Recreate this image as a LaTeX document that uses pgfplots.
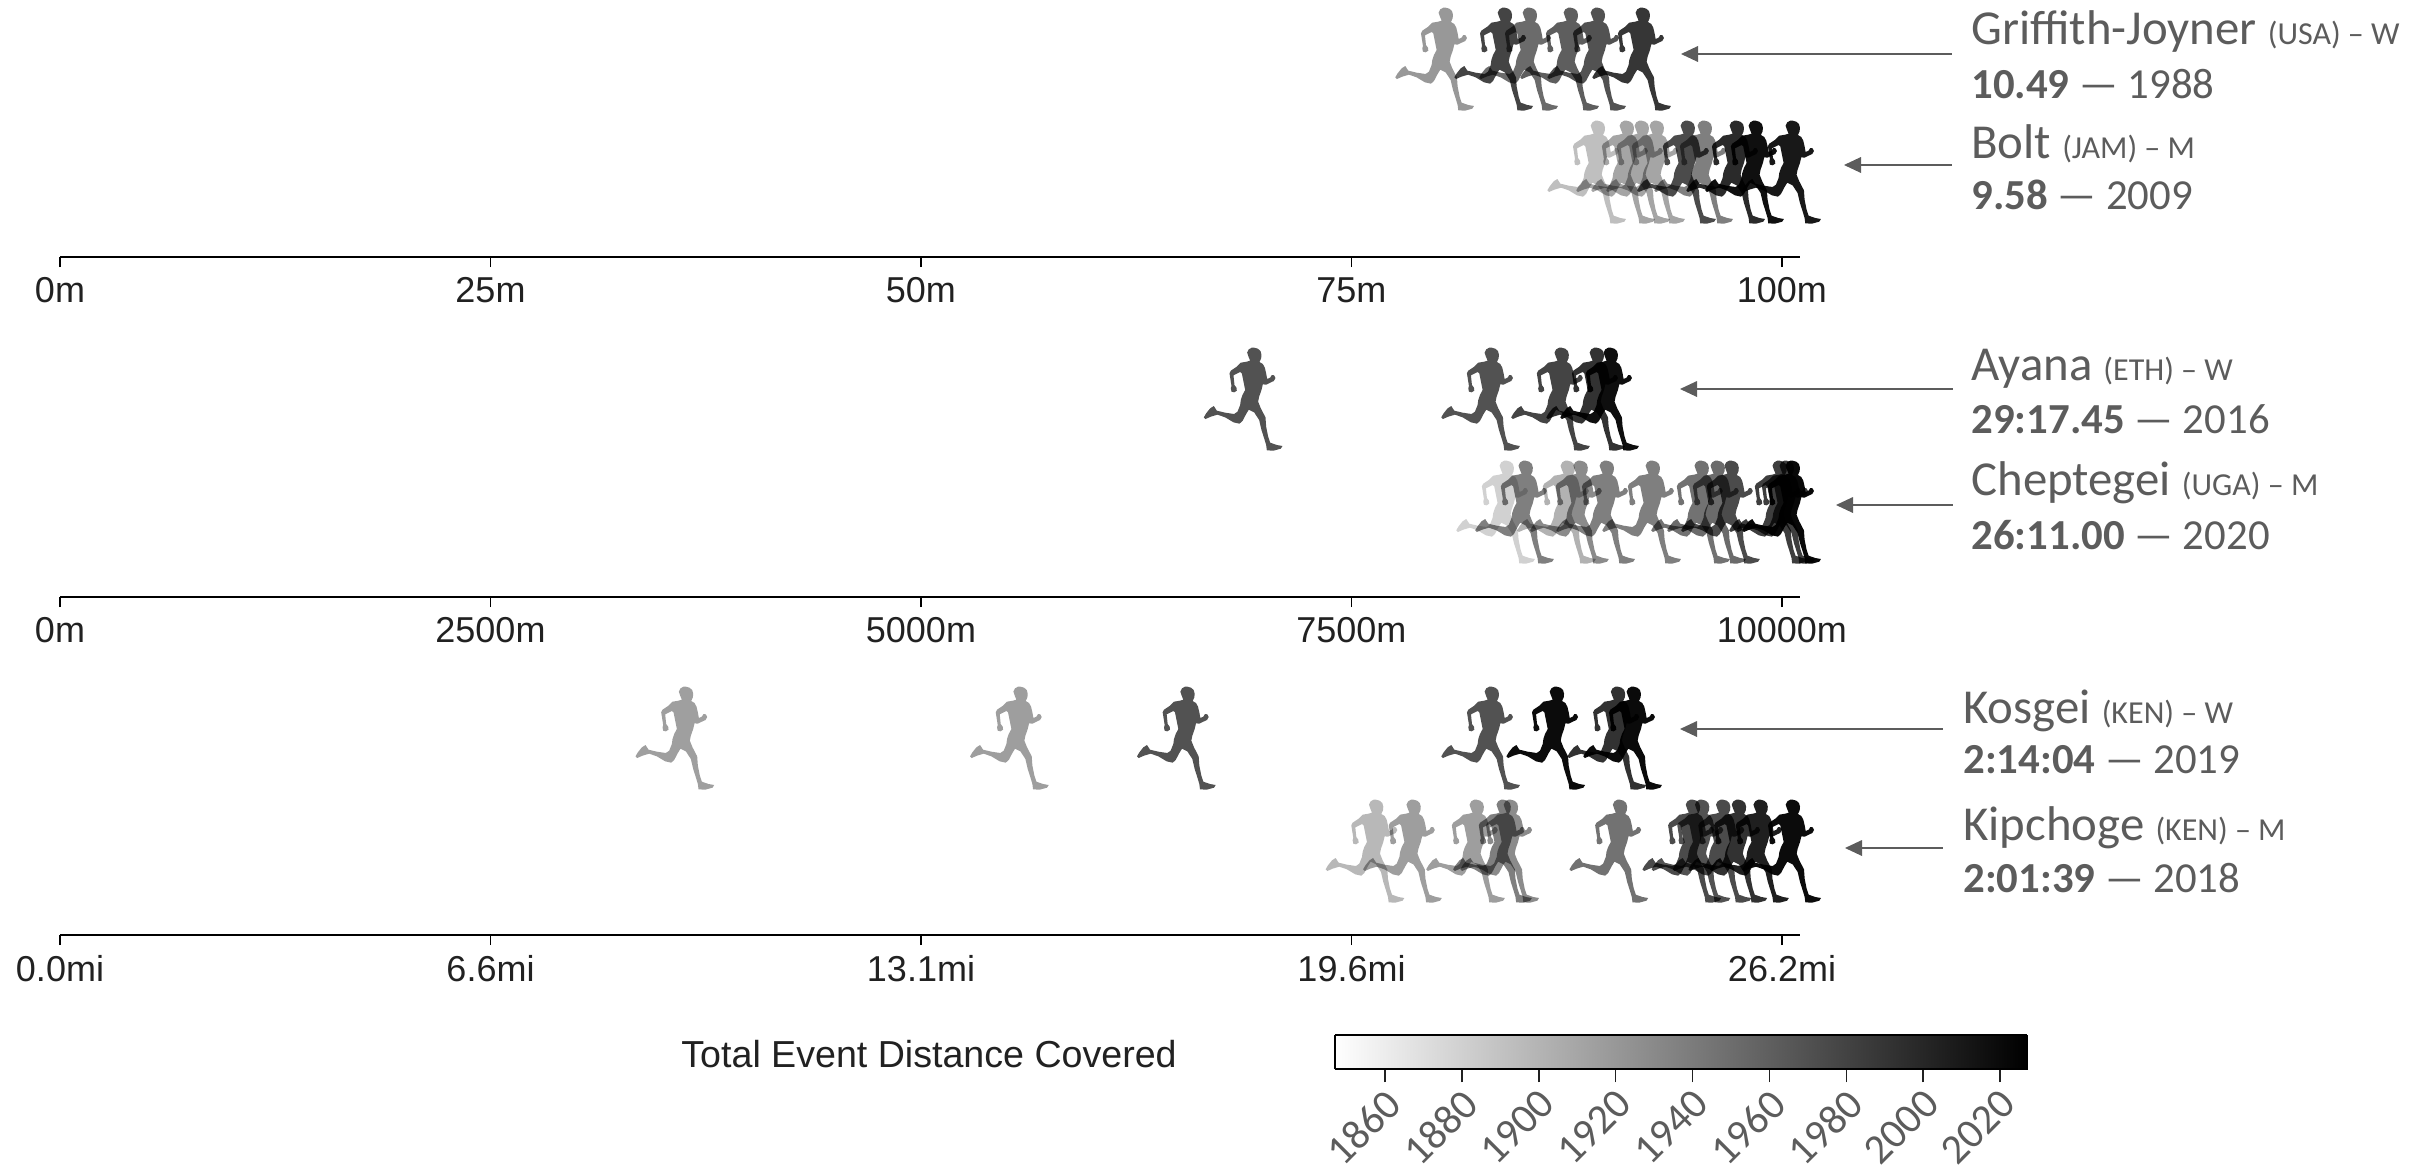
\documentclass[border=0pt]{standalone}
\usepackage{fontspec}
\usepackage{pgfplots}
\pgfplotsset{compat=1.18}
\setmainfont{Liberation Sans}
\newfontfamily\calfont{Carlito}
\definecolor{anno}{gray}{0.36}
\definecolor{tickc}{gray}{0.13}
\def\L#1#2{\pgfpathlineto{\pgfqpoint{#1pt}{#2pt}}}
\pgfdeclareplotmark{runner}{%
  \pgfscope
  \pgfsetblendmode{multiply}%
  \pgftransformcm{0.16667}{0}{0}{-0.16667}{\pgfqpoint{-26.67pt}{29.5pt}}%
  \pgfpathmoveto{\pgfqpoint{192pt}{23pt}}%
  \L{203}{26}\L{211}{33}\L{214}{44}\L{213}{55}\L{208}{66}\L{218}{72}\L{224}{83}\L{228}{100}\L{231}{117}%
  \L{240}{113}\L{245}{105}\L{252}{106}\L{256}{114}\L{251}{123}\L{240}{128}\L{228}{134}\L{218}{133}%
  \L{214}{150}\L{207}{170}\L{204}{185}\L{212}{205}\L{226}{232}\L{228}{260}\L{234}{290}\L{240}{308}%
  \L{260}{315}\L{277}{318}\L{272}{326}\L{250}{332}\L{230}{331}\L{228}{315}\L{222}{295}\L{214}{270}%
  \L{207}{240}\L{192}{217}\L{176}{209}\L{168}{222}\L{157}{243}\L{148}{251}\L{130}{247}\L{105}{232}%
  \L{82}{224}\L{62}{230}\L{46}{237}\L{41}{232}\L{48}{220}\L{60}{205}\L{71}{198}\L{80}{212}\L{105}{218}%
  \L{132}{222}\L{142}{215}\L{150}{195}\L{152}{180}\L{157}{165}\L{165}{150}\L{160}{125}\L{155}{100}%
  \L{150}{96}\L{130}{106}\L{133}{135}\L{139}{143}\L{140}{152}\L{132}{157}\L{124}{155}\L{122}{145}%
  \L{124}{138}\L{118}{100}\L{122}{92}\L{140}{80}\L{152}{68}\L{170}{65}\L{180}{62}\L{175}{50}\L{171}{38}\L{176}{28}\L{185}{23}%
  \pgfpathclose
  \pgfusepathqfill
  \endpgfscope
}
\pgfplotsset{
  panel/.style={
    scale only axis, width=870pt, height=125pt,
    axis x line*=bottom, axis y line=none,
    ymin=0, ymax=250, clip=false, scaled x ticks=false,
    axis line style={black, line width=0.9pt},
    tick style={black, line width=0.8pt},
    major tick length=5pt, tick align=outside,
    xticklabel style={font=\fontsize{18}{20}\selectfont, text=tickc, inner sep=0pt, yshift=-5pt},
    colormap={bw}{gray(0cm)=(1); gray(1cm)=(0)},
    point meta min=1847, point meta max=2027,
  },
  runners/.style={scatter, only marks, mark=runner, point meta=explicit,
    scatter/use mapped color={fill=mapped color}},
}
\begin{document}
\begin{tikzpicture}
\begin{scope}[x=0.5pt,y=-0.5pt]
  \useasboundingbox (0,0) rectangle (2423,1172);
  \coordinate (p1) at (60,257);
  \coordinate (p2) at (60,597);
  \coordinate (p3) at (60,935);
  \coordinate (cb) at (1335,1069);
\end{scope}

\begin{axis}[panel, at={(p1)}, anchor=south west, xmin=0, xmax=101.05,
  xtick={0,25,50,75,100}, xticklabels={0m,25m,50m,75m,100m}]
\addplot[runners] coordinates {
 (79.85,198)[1919] (83.28,198)[1978] (84.73,198)[1951] (87.11,198)[1960] (88.68,198)[1968] (91.29,198)[1988]};
\addplot[runners] coordinates {
 (88.68,85)[1892] (90.36,85)[1910] (91.23,85)[1910] (92.10,85)[1910] (93.90,85)[1973] (94.89,85)[1937] (96.75,85)[1996] (97.85,85)[2015] (100,85)[2009]};
\end{axis}

\begin{axis}[panel, at={(p2)}, anchor=south west, xmin=0, xmax=10105,
  xtick={0,2500,5000,7500,10000}, xticklabels={0m,2500m,5000m,7500m,10000m}]
\addplot[runners] coordinates {
 (6873,198)[1968] (8252,198)[1968] (8658,198)[1978] (8862,198)[1991] (8943,198)[2016]};
\addplot[runners] coordinates {
 (8339,85)[1879] (8449,85)[1937] (8693,85)[1901] (8768,85)[1928] (8920,85)[1937] (9187,85)[1937] (9471,85)[1946] (9564,85)[1951] (9645,85)[1973] (9924,85)[1982] (9965,85)[1982] (10000,85)[2020]};
\end{axis}

\begin{axis}[panel, at={(p3)}, anchor=south west, xmin=0, xmax=26.474,
  xtick={0,6.55,13.1,19.65,26.2}, xticklabels={0.0mi,6.6mi,13.1mi,19.6mi,26.2mi}]
\addplot[runners] coordinates {
 (9.36,197)[1914] (14.45,197)[1915] (16.99,197)[1968] (21.62,197)[1968] (22.61,197)[2018] (23.54,197)[1991] (23.78,197)[2019]};
\addplot[runners] coordinates {
 (19.86,84)[1897] (20.43,84)[1915] (21.39,84)[1915] (21.80,84)[1937] (21.91,84)[1928] (23.57,84)[1946] (24.68,84)[1973] (24.82,84)[1968] (25.14,84)[1973] (25.38,84)[1991] (25.71,84)[2004] (26.2,84)[2018]};
\end{axis}

\begin{axis}[at={(cb)}, anchor=south west, scale only axis, width=346pt, height=17pt,
  view={0}{90}, xmin=1847, xmax=2027, ymin=0, ymax=1,
  colormap={bw}{gray(0cm)=(1); gray(1cm)=(0)},
  xtick={1860,1880,1900,1920,1940,1960,1980,2000,2020}, ytick=\empty,
  xtick pos=bottom, tick align=outside, major tick length=6.5pt,
  tick style={tickc, line width=0.8pt},
  axis line style={black, line width=0.9pt},
  /pgf/number format/set thousands separator={},
  /pgf/number format/assume math mode=true,
  xticklabel style={font=\calfont\fontsize{21}{24}\selectfont, text=anno, rotate=45, anchor=north east, inner sep=0pt, xshift=-2.2pt, yshift=-1.2pt},
  axis on top]
\addplot3[surf, shader=interp, point meta=x] coordinates {
 (1847,0,0) (2027,0,0)

 (1847,1,0) (2027,1,0)
};
\end{axis}

\begin{scope}[x=0.5pt,y=-0.5pt]
  \foreach \tipx/\y/\endx in {1681/54/1952, 1844/165/1952, 1680/389/1953, 1836/505/1953, 1680/729/1943, 1845/848/1943}{
    \fill[anno] (\tipx,\y) -- (\tipx+17,\y-8) -- (\tipx+17,\y+8) -- cycle;
    \draw[anno, line width=1.2pt] (\tipx+16,\y) -- (\endx,\y);
  }
  \def\A{\calfont\fontsize{24.4}{26}\selectfont}
  \def\S{\calfont\fontsize{16}{18}\selectfont}
  \def\B{\calfont\fontsize{21.4}{24}\selectfont}
  \tikzset{an/.style={anchor=base west, inner sep=0pt, text=anno}}
  \node[an] at (1971,45) {\A Griffith-Joyner {\S (USA) – W}};
  \node[an] at (1971,98) {\B\textbf{10.49} — 1988};
  \node[an] at (1971,158) {\A Bolt {\S (JAM) – M}};
  \node[an] at (1971,209) {\B\textbf{9.58} — 2009};
  \node[an] at (1971,380) {\A Ayana {\S (ETH) – W}};
  \node[an] at (1971,433) {\B\textbf{29:17.45} — 2016};
  \node[an] at (1971,495) {\A Cheptegei {\S (UGA) – M}};
  \node[an] at (1971,549) {\B\textbf{26:11.00} — 2020};
  \node[an] at (1963,723) {\A Kosgei {\S (KEN) – W}};
  \node[an] at (1963,773) {\B\textbf{2:14:04} — 2019};
  \node[an] at (1963,840) {\A Kipchoge {\S (KEN) – M}};
  \node[an] at (1963,892) {\B\textbf{2:01:39} — 2018};
  \node[anchor=base west, inner sep=0pt, text=tickc, font=\fontsize{18.8}{20}\selectfont] at (681,1067) {Total Event Distance Covered};
\end{scope}
\end{tikzpicture}
\end{document}
